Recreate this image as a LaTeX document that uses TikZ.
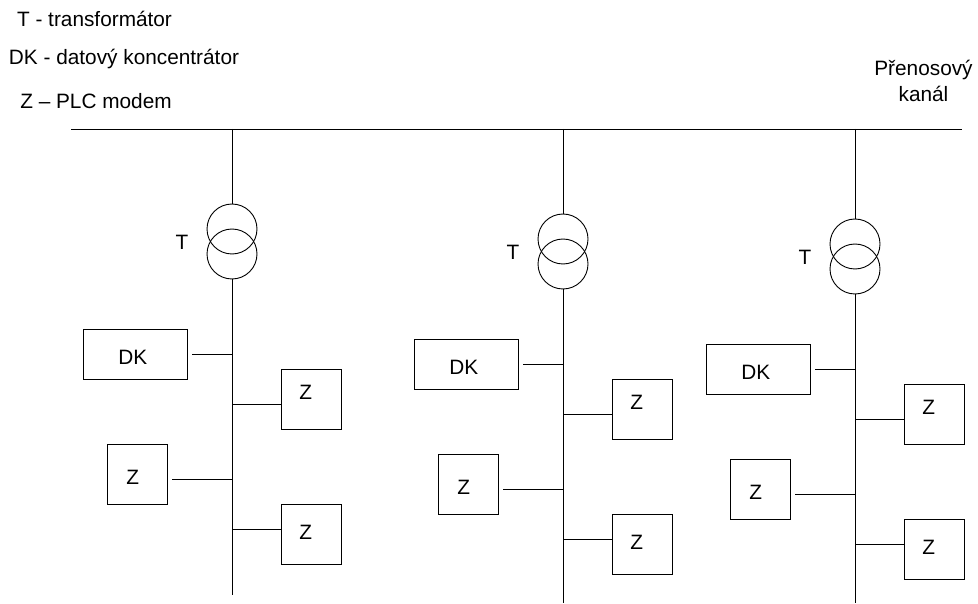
\documentclass[tikz,border=0pt]{standalone}
\usepackage{fontspec}
\setmainfont{Liberation Sans}
\tikzset{
  wire/.style={draw=black,line width=0.9pt},
  unitbox/.style={draw=black,line width=0.9pt,inner sep=0pt,outer sep=0pt,minimum height=60pt,minimum width=60pt},
  widebox/.style={unitbox,minimum height=50pt,minimum width=104pt},
  coil/.style={draw=black,line width=0.9pt,circle,inner sep=0pt,outer sep=0pt,minimum size=50pt},
  txt/.style={font=\fontsize{20.8}{26}\selectfont,inner sep=0pt,outer sep=0pt,text=black,align=center}
}
\begin{document}
\begin{tikzpicture}[x=1pt,y=-1pt]
\useasboundingbox (0,0) rectangle (978,604);
\fill[white] (0,0) rectangle (978,604);
\node[txt] (legendT) at (94.5,18.5) {T - transformátor};
\node[txt] (legendDK) at (124,59) {DK - datový koncentrátor};
\node[txt] (legendZ) at (96,101.5) {Z – PLC modem};
\node[txt] (channel) at (923.5,81) {Přenosový\\kanál};
\coordinate (busL) at (71,129);
\coordinate (busR) at (962,129);
\draw[wire] (busL) -- (busR);
\foreach \c/\dx/\dy/\bot in {a/0/0/595,b/331/10/593,c/623/15/588}{
  \begin{scope}[shift={(\dx,\dy)}]
    \coordinate (top\c) at (232,129-\dy);
    \coordinate (end\c) at (232,\bot);
    \node[coil] (up\c) at (232,229) {};
    \node[coil] (lo\c) at (232,254) {};
    \node[txt] (t\c) at (182,242.5) {T};
    \draw[wire] (top\c) -- (up\c.north);
    \draw[wire] (lo\c.south) -- (end\c);
    \node[widebox] (dk\c) at (135.3,354.3) {};
    \node[txt] (dkt\c) at (132.7,357) {DK};
    \coordinate (dkend\c) at (192,354);
    \coordinate (j1\c) at (232,354);
    \draw[wire] (dkend\c) -- (j1\c);
    \node[unitbox] (r1\c) at (311.3,399.3) {};
    \node[txt] (r1t\c) at (305.7,392.7) {Z};
    \coordinate (j2\c) at (232,404.3);
    \draw[wire] (j2\c) -- (j2\c -| r1\c.west);
    \node[unitbox] (l\c) at (137.8,474.3) {};
    \node[txt] (lt\c) at (132.7,477.7) {Z};
    \coordinate (lend\c) at (172,479.3);
    \coordinate (j3\c) at (232,479.3);
    \draw[wire] (lend\c) -- (j3\c);
    \node[unitbox] (r2\c) at (311.3,534.3) {};
    \node[txt] (r2t\c) at (305.7,532.7) {Z};
    \coordinate (j4\c) at (232,529.3);
    \draw[wire] (j4\c) -- (j4\c -| r2\c.west);
  \end{scope}
}
\end{tikzpicture}
\end{document}
